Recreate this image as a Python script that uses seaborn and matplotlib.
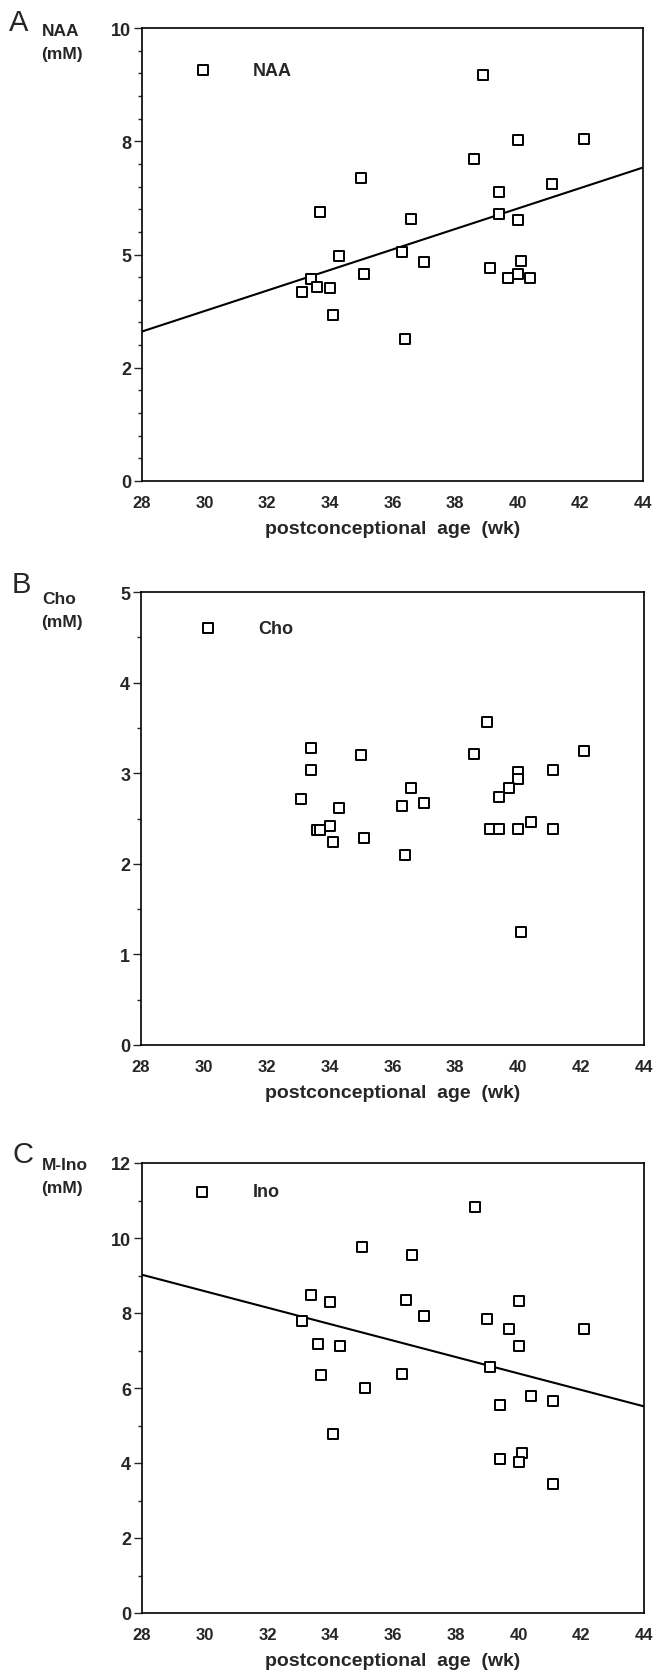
import matplotlib
matplotlib.use('Agg')
import matplotlib.pyplot as plt
from matplotlib.ticker import MultipleLocator
import seaborn as sns

# ==========================================
# data
# ==========================================
# panel A - NAA
naa_age = [38.9, 40.0, 42.1, 38.6, 35.0, 41.1, 39.4, 33.7, 39.4, 36.6,
           40.0, 34.3, 36.3, 37.0, 39.1, 40.1, 35.1, 40.0, 39.7, 40.4,
           33.4, 33.6, 33.1, 34.0, 34.1, 36.4]
naa_val = [8.97, 7.53, 7.55, 7.11, 6.68, 6.55, 6.37, 5.93, 5.89, 5.78,
           5.77, 4.96, 5.05, 4.83, 4.71, 4.85, 4.56, 4.56, 4.49, 4.49,
           4.46, 4.28, 4.18, 4.26, 3.66, 3.13]
naa_fit_age = [28, 44]
naa_fit_val = [3.3, 6.92]
naa_ticks = [0, 2.5, 5, 7.5, 10]
naa_ticklabels = ['0', '2', '5', '8', '10']

# panel B - Cho
cho_age = [39.0, 33.4, 35.0, 38.6, 42.1, 33.4, 41.1, 40.0, 40.0, 39.7,
           36.6, 39.4, 33.1, 37.0, 36.3, 34.3, 40.4, 34.0, 33.6, 33.7,
           39.1, 39.4, 40.0, 41.1, 34.1, 35.1, 36.4, 40.1]
cho_val = [3.57, 3.28, 3.20, 3.21, 3.24, 3.03, 3.04, 3.01, 2.94, 2.84,
           2.84, 2.74, 2.72, 2.67, 2.64, 2.62, 2.46, 2.42, 2.37, 2.37,
           2.38, 2.38, 2.38, 2.38, 2.24, 2.28, 2.10, 1.25]
cho_ticks = [0, 1, 2, 3, 4, 5]

# panel C - myo-inositol
ino_age = [38.6, 35.0, 36.6, 33.4, 34.0, 36.4, 40.0, 37.0, 39.0, 33.1,
           39.7, 42.1, 33.6, 34.3, 40.0, 39.1, 33.7, 36.3, 35.1, 40.4,
           41.1, 39.4, 34.1, 40.1, 39.4, 40.0, 41.1]
ino_val = [10.82, 9.76, 9.56, 8.49, 8.30, 8.35, 8.33, 7.93, 7.85, 7.80,
           7.57, 7.57, 7.17, 7.11, 7.12, 6.57, 6.36, 6.37, 6.0, 5.79,
           5.65, 5.54, 4.77, 4.28, 4.12, 4.04, 3.44]
ino_fit_age = [28, 44]
ino_fit_val = [9.02, 5.51]
ino_ticks = [0, 2, 4, 6, 8, 10, 12]

age_ticks = [28, 30, 32, 34, 36, 38, 40, 42, 44]

# ==========================================
# style
# ==========================================
sns.set_style('ticks')
plt.rcParams['font.family'] = ['Liberation Sans', 'DejaVu Sans']
plt.rcParams['font.weight'] = 'bold'
plt.rcParams['axes.linewidth'] = 1.2

W, H = 654, 1674
fig = plt.figure(figsize=(W / 100, H / 100), dpi=100)


def box(left, top, right, bottom):
    # pixel box -> figure fraction
    return [left / W, 1 - bottom / H, (right - left) / W, (bottom - top) / H]


def panel(ax, age, val, ticks, ticklabels, minor, name, leg_xy,
          fit_age=None, fit_val=None):
    if fit_age is not None:
        sns.lineplot(x=fit_age, y=fit_val, ax=ax, color='black',
                     linewidth=1.5, legend=False, zorder=2)
    sns.scatterplot(x=age, y=val, ax=ax, marker='s', s=52, color='white',
                    edgecolor='black', linewidth=1.4, label=name, zorder=3)
    ax.set_xlim(28, 44)
    ax.set_ylim(ticks[0], ticks[-1])
    ax.set_xticks(age_ticks)
    ax.set_yticks(ticks)
    ax.set_yticklabels(ticklabels)
    ax.yaxis.set_minor_locator(MultipleLocator(minor))
    ax.tick_params(axis='x', length=0, pad=10, labelsize=12)
    ax.tick_params(axis='y', which='major', length=5.8, width=1.0, pad=2,
                   labelsize=13)
    ax.tick_params(axis='y', which='minor', length=2.8, width=1.0)
    for lab in ax.get_xticklabels() + ax.get_yticklabels():
        lab.set_fontweight('bold')
    for s in ax.spines.values():
        s.set_visible(True)
        s.set_color('black')
    ax.set_xlabel('postconceptional  age  (wk)', fontsize=14,
                  fontweight='bold', labelpad=7)
    ax.set_ylabel('')
    ax.legend(loc='center left', bbox_to_anchor=leg_xy, frameon=False,
              handlelength=1.0, handletextpad=2.3, borderpad=0,
              borderaxespad=0, prop={'weight': 'bold', 'size': 13})


# --- A: NAA ---
ax1 = fig.add_axes(box(142, 29, 643, 482))
panel(ax1, naa_age, naa_val, naa_ticks, naa_ticklabels, 0.5, 'NAA',
      (0.103, 0.906), naa_fit_age, naa_fit_val)

# --- B: Cho ---
ax2 = fig.add_axes(box(141, 593, 644, 1046))
panel(ax2, cho_age, cho_val, cho_ticks, [str(t) for t in cho_ticks], 0.5,
      'Cho', (0.115, 0.9205))

# --- C: Ino ---
ax3 = fig.add_axes(box(142, 1164, 644, 1614))
panel(ax3, ino_age, ino_val, ino_ticks, [str(t) for t in ino_ticks], 1,
      'Ino', (0.101, 0.9356), ino_fit_age, ino_fit_val)

# panel letters and y labels
labels = [('A', 'NAA', 23, 32, 54, 9),
          ('B', 'Cho', 585, 600, 622, 12),
          ('C', 'M-Ino', 1155, 1165, 1188, 12)]
for letter, met, y_letter, y_met, y_unit, x_letter in labels:
    fig.text(x_letter / W, 1 - y_letter / H, letter, fontsize=21,
             fontweight='normal', ha='left', va='center')
    fig.text(42 / W, 1 - y_met / H, met, fontsize=12.5, fontweight='bold',
             ha='left', va='center')
    fig.text(41 / W, 1 - y_unit / H, '(mM)', fontsize=12.5,
             fontweight='bold', ha='left', va='center')

fig.savefig('out.png', dpi=100)
